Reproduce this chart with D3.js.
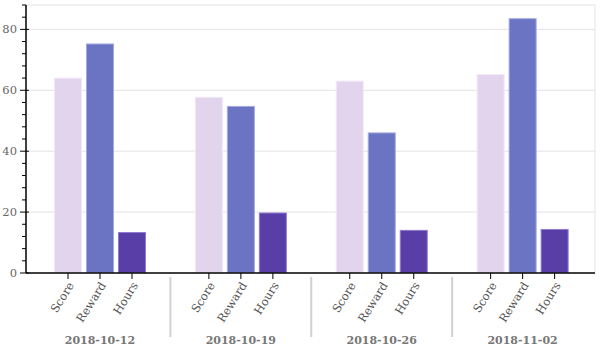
<!DOCTYPE html>
<html><head><meta charset="utf-8">
<script src="https://cdn.jsdelivr.net/npm/d3@7"></script>
<style>body{margin:0;background:#fff}svg text{font-family:"DejaVu Serif",serif}</style>
</head><body><svg id="c" width="600" height="350"></svg>
<script>
const dates = ["2018-10-12","2018-10-19","2018-10-26","2018-11-02"];
const seriesNames = ["Score","Reward","Hours"];
const score = [64.0, 57.7, 63.0, 65.2];
const reward = [75.2, 54.7, 46.0, 83.5];
const hours = [13.3, 19.7, 14.0, 14.3];
const yMajorTicks = [0,20,40,60,80];
const colors = ["#e3d4ee","#6b73c3","#5a3ea8"];
const strokes = ["#f1e9f7","#a3a9e2","#8f7bd0"];

const svg = d3.select("#c");
const L = 26, R = 595, T = 5, B = 273;
const y = d3.scaleLinear().domain([0,88]).range([B,T]);
const x0 = d3.scaleBand().domain(dates).range([29.5, 593]).padding(0);
const x1 = d3.scaleBand().domain(seriesNames).range([22.5, 118.5]).paddingInner(0.125).paddingOuter(0.0625);

// grid
svg.append("g").selectAll("line").data(yMajorTicks.slice(1).concat([88])).join("line")
  .attr("x1",L).attr("x2",R).attr("y1",d=>y(d)).attr("y2",d=>y(d))
  .attr("stroke","#e3e3e3").attr("stroke-width",1);
svg.append("line").attr("x1",R).attr("x2",R).attr("y1",T).attr("y2",B).attr("stroke","#e3e3e3");

const vals = [score, reward, hours];
const data = [];
dates.forEach((d,i)=>seriesNames.forEach((s,j)=>data.push({d,s,j,v:vals[j][i]})));

svg.append("g").selectAll("rect").data(data).join("rect")
  .attr("x",d=>x0(d.d)+x1(d.s)+0.5).attr("width",x1.bandwidth()-1)
  .attr("y",d=>y(d.v)).attr("height",d=>B-y(d.v)-0.5)
  .attr("fill",d=>colors[d.j]).attr("stroke",d=>strokes[d.j]).attr("stroke-width",1);

// y axis
const yg = svg.append("g");
yg.append("line").attr("x1",L).attr("x2",L).attr("y1",T).attr("y2",B).attr("stroke","#000").attr("stroke-width",1.5);
const minor = d3.range(0,89,4);
yg.selectAll("line.m").data(minor).join("line").attr("class","m")
  .attr("x1",d=>yMajorTicks.includes(d)?20:22).attr("x2",d=>yMajorTicks.includes(d)?29:26)
  .attr("y1",d=>y(d)).attr("y2",d=>y(d)).attr("stroke","#000").attr("stroke-width",1);
yg.selectAll("text").data(yMajorTicks).join("text")
  .attr("x",17).attr("y",d=>y(d)).attr("dy","0.35em").attr("text-anchor","end")
  .attr("fill","#666").attr("font-size",11.5).text(d=>d);

// x axis
svg.append("line").attr("x1",L).attr("x2",R).attr("y1",B).attr("y2",B).attr("stroke","#000").attr("stroke-width",1.5);
const xt = svg.append("g");
data.forEach(d=>{
  const cx = x0(d.d)+x1(d.s)+x1.bandwidth()/2;
  xt.append("line").attr("x1",cx).attr("x2",cx).attr("y1",B).attr("y2",B+6).attr("stroke","#000");
  xt.append("text").attr("transform",`translate(${cx+3},${B+10}) rotate(-58)`)
    .attr("text-anchor","end").attr("dy","0.35em").attr("font-size",11.5).attr("fill","#555").text(d.s);
});
dates.forEach((d,i)=>{
  const cx = x0(d)+x0.bandwidth()/2;
  svg.append("text").attr("x",cx).attr("y",344).attr("text-anchor","middle")
    .attr("font-size",11).attr("font-weight","bold").attr("fill","#777").text(d);
  if(i>0) svg.append("line").attr("x1",x0(d)).attr("x2",x0(d)).attr("y1",277).attr("y2",337)
    .attr("stroke","#d0d0d0").attr("stroke-width",2);
});
</script></body></html>
